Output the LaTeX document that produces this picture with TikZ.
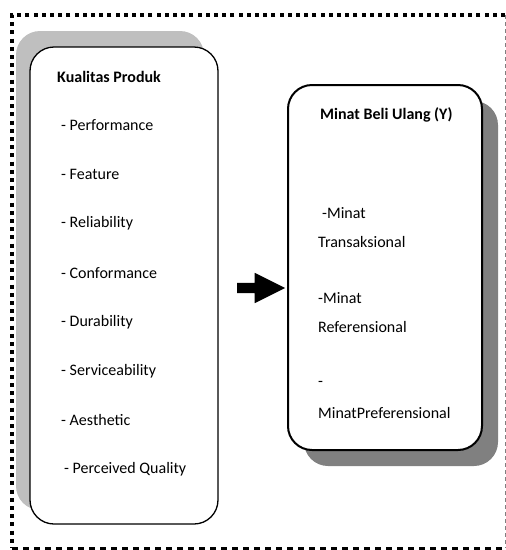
\documentclass[tikz,border=0pt]{standalone}
\usepackage{fontspec}
\setmainfont{Carlito}
\usetikzlibrary{shapes.arrows}

\tikzset{
    box/.style={draw=black, fill=white, rounded corners=24pt, inner sep=0pt},
    item/.style={anchor=west, inner sep=0pt, font=\fontsize{16}{18}\selectfont},
    head/.style={item, font=\fontsize{16}{18}\selectfont\bfseries}
}

\begin{document}
\begin{tikzpicture}[x=1pt, y=-1pt]
        \useasboundingbox (0,0) rectangle (506,550);
        % frame
        \draw[line width=4pt, dash pattern=on 4pt off 4.2pt] (505,15) -- (12,15) -- (12,548);
        \draw[line width=3pt, dash pattern=on 6pt off 5pt] (12,548) -- (505,548);
        \draw[gray, line width=1pt, dash pattern=on 4pt off 3pt] (505,15) -- (505,548);

        % left box
        \fill[gray!50, rounded corners=24pt] (16,31) rectangle (204,510);
        \node[box, line width=1.3pt, minimum width=188pt, minimum height=477pt] (produk) at (124,285.5) {};
        \node[head] (kp) at (57,77) {Kualitas Produk};
        \foreach \t [count=\i] in {Performance, Feature, Reliability, Conformance,
                Durability, Serviceability, Aesthetic}
            \node[item] (x\i) at (61,{125+49.2*(\i-1)}) {- \t};
        \node[item] (x8) at (64,469) {- Perceived Quality};

        % right box
        \fill[gray, rounded corners=24pt] (304,101) rectangle (498,466);
        \node[box, line width=2pt, minimum width=194pt, minimum height=365pt] (minat) at (385,267.5) {};
        \node[head] (mbu) at (320,115) {Minat Beli Ulang (Y)};
        \node[item] (y1) at (322,213) {-Minat};
        \node[item] (y2) at (318,242) {Transaksional};
        \node[item] (y3) at (318,298) {-Minat};
        \node[item] (y4) at (318,327) {Referensional};
        \node[item] (y5) at (318,384) {-};
        \node[item] (y6) at (318,413) {MinatPreferensional};

        % arrow
        \node[single arrow, fill=black, inner sep=5pt, minimum height=48pt,
              single arrow head extend=10pt, single arrow tip angle=53,
              single arrow head indent=0pt] (arr) at (256,288) {};
    \end{tikzpicture}
\end{document}
